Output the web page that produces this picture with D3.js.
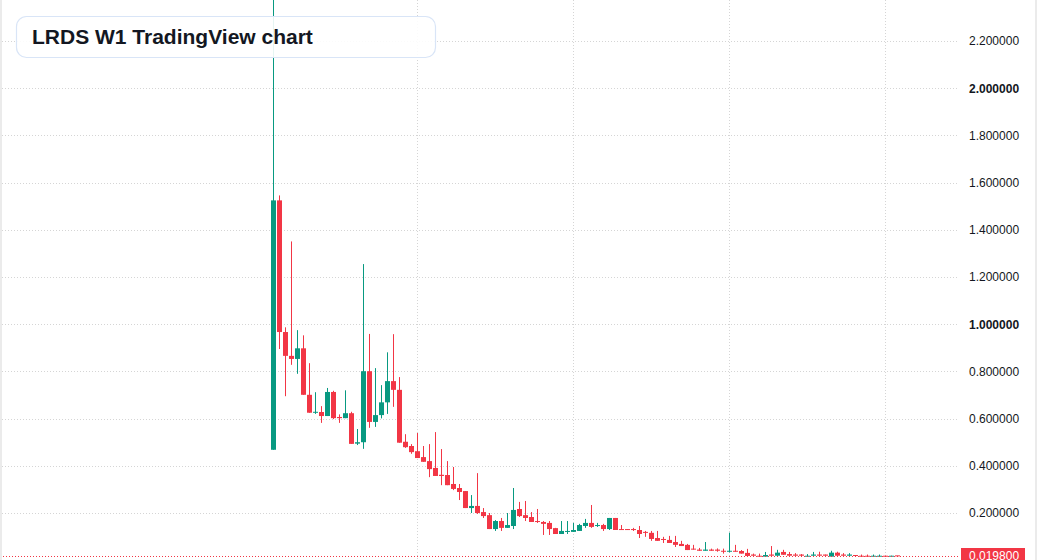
<!DOCTYPE html>
<html>
<head>
<meta charset="utf-8">
<script src="https://cdn.jsdelivr.net/npm/d3@7"></script>
<style>
  body { margin: 0; background: #fff; }
  svg { display: block; font-family: "Liberation Sans", Arial, sans-serif; }
</style>
</head>
<body>
<div id="chart-area"></div>
<script>
// weekly candles
const opens = [
  0.468, 1.525, 0.967, 0.866, 0.853, 0.898, 0.701, 0.625, 0.628, 0.611,
  0.713, 0.607, 0.602, 0.623, 0.494, 0.500, 0.801, 0.586, 0.615, 0.669,
  0.759, 0.722, 0.502, 0.484, 0.462, 0.437, 0.420, 0.391, 0.362, 0.361,
  0.323, 0.306, 0.293, 0.221, 0.230, 0.204, 0.191, 0.132, 0.166, 0.137,
  0.145, 0.217, 0.191, 0.183, 0.166, 0.162, 0.158, 0.136, 0.111, 0.120,
  0.120, 0.124, 0.145, 0.158, 0.145, 0.149, 0.132, 0.179, 0.132, 0.132,
  0.132, 0.128, 0.120, 0.116, 0.094, 0.090, 0.086, 0.077, 0.069, 0.065,
  0.049, 0.045, 0.040, 0.045, 0.045, 0.040, 0.036, 0.040, 0.039, 0.031,
  0.024, 0.019, 0.015, 0.024, 0.019, 0.035, 0.026, 0.024, 0.024, 0.015,
  0.019, 0.024, 0.024, 0.015, 0.032, 0.024, 0.019, 0.022, 0.019, 0.019,
  0.015, 0.015, 0.019, 0.015, 0.0205
];
const highs = [
  2.500, 1.546, 0.987, 1.351, 0.975, 0.953, 0.835, 0.712, 0.653, 0.730,
  0.718, 0.618, 0.720, 0.629, 0.556, 1.255, 0.959, 0.814, 0.742, 0.881,
  0.958, 0.776, 0.534, 0.492, 0.539, 0.484, 0.492, 0.543, 0.471, 0.420,
  0.395, 0.323, 0.293, 0.276, 0.369, 0.221, 0.200, 0.170, 0.179, 0.200,
  0.306, 0.247, 0.251, 0.204, 0.217, 0.166, 0.166, 0.137, 0.166, 0.166,
  0.158, 0.154, 0.175, 0.234, 0.158, 0.154, 0.179, 0.179, 0.149, 0.132,
  0.137, 0.145, 0.124, 0.124, 0.124, 0.099, 0.103, 0.103, 0.082, 0.069,
  0.065, 0.052, 0.077, 0.049, 0.050, 0.049, 0.117, 0.065, 0.043, 0.048,
  0.028, 0.028, 0.035, 0.060, 0.044, 0.044, 0.035, 0.030, 0.026, 0.026,
  0.035, 0.036, 0.024, 0.040, 0.036, 0.030, 0.030, 0.022, 0.024, 0.024,
  0.024, 0.024, 0.019, 0.019, 0.0205
];
const lows = [
  0.468, 0.895, 0.695, 0.828, 0.790, 0.701, 0.625, 0.620, 0.582, 0.611,
  0.598, 0.582, 0.602, 0.493, 0.488, 0.472, 0.561, 0.565, 0.601, 0.620,
  0.650, 0.498, 0.476, 0.451, 0.433, 0.417, 0.352, 0.357, 0.318, 0.318,
  0.297, 0.255, 0.221, 0.200, 0.196, 0.179, 0.132, 0.124, 0.124, 0.137,
  0.132, 0.183, 0.166, 0.162, 0.158, 0.107, 0.107, 0.111, 0.111, 0.111,
  0.120, 0.124, 0.137, 0.137, 0.141, 0.124, 0.128, 0.128, 0.128, 0.128,
  0.124, 0.094, 0.099, 0.082, 0.082, 0.073, 0.073, 0.056, 0.060, 0.043,
  0.045, 0.040, 0.040, 0.040, 0.036, 0.028, 0.033, 0.036, 0.028, 0.018,
  0.019, 0.015, 0.015, 0.019, 0.019, 0.023, 0.019, 0.019, 0.015, 0.015,
  0.019, 0.019, 0.019, 0.015, 0.019, 0.019, 0.019, 0.019, 0.015, 0.015,
  0.015, 0.015, 0.015, 0.015, 0.0198
];
const closes = [
  1.525, 0.967, 0.866, 0.853, 0.898, 0.701, 0.625, 0.629, 0.611, 0.713,
  0.602, 0.602, 0.623, 0.493, 0.500, 0.801, 0.586, 0.615, 0.669, 0.759,
  0.722, 0.498, 0.479, 0.458, 0.433, 0.417, 0.386, 0.357, 0.357, 0.318,
  0.302, 0.289, 0.221, 0.230, 0.200, 0.187, 0.132, 0.166, 0.137, 0.149,
  0.213, 0.187, 0.179, 0.162, 0.162, 0.154, 0.132, 0.111, 0.124, 0.124,
  0.128, 0.149, 0.158, 0.141, 0.149, 0.132, 0.179, 0.128, 0.128, 0.128,
  0.128, 0.111, 0.116, 0.090, 0.082, 0.086, 0.073, 0.065, 0.060, 0.043,
  0.045, 0.040, 0.045, 0.040, 0.040, 0.036, 0.040, 0.036, 0.028, 0.018,
  0.019, 0.015, 0.022, 0.019, 0.032, 0.023, 0.019, 0.019, 0.019, 0.019,
  0.024, 0.019, 0.019, 0.032, 0.019, 0.019, 0.024, 0.019, 0.015, 0.015,
  0.019, 0.019, 0.015, 0.019, 0.0198
];

const priceTicks = [0.2, 0.4, 0.6, 0.8, 1.0, 1.2, 1.4, 1.6, 1.8, 2.0, 2.2];
const boldTicks = [1.0, 2.0];
const timeGridIdx = [24, 50, 76, 102]; // vertical grid lines (candle index)
const lastPrice = 0.0198;
const title = 'LRDS W1 TradingView chart';

const width = 1037;
const height = 560;
const axisLeft = 960;
const up = '#089981';
const down = '#f23645';

const data = opens.map((o, i) => ({ i, o, h: highs[i], l: lows[i], c: closes[i] }));

const svg = d3.select('#chart-area')
  .append('svg')
  .attr('width', width)
  .attr('height', height);

svg.append('rect')
  .attr('width', width)
  .attr('height', height)
  .attr('fill', '#fff');

const x = d3.scaleLinear()
  .domain([0, data.length - 1])
  .range([273.5, 897.5]);

const y = d3.scaleLinear()
  .domain([0, 2])
  .range([560.2, 88.3]);

const plot = svg.append('g');

plot.append('clipPath')
  .attr('id', 'clip')
  .append('rect')
  .attr('width', axisLeft)
  .attr('height', height);

// grid
const grid = plot.append('g').attr('stroke', '#d5d5d5').attr('stroke-dasharray', '1,2');

grid.selectAll('.hgrid')
  .data(priceTicks)
  .enter().append('line')
  .attr('class', 'hgrid')
  .attr('x1', 2)
  .attr('x2', 958)
  .attr('y1', d => Math.round(y(d)) + 0.5)
  .attr('y2', d => Math.round(y(d)) + 0.5);

grid.selectAll('.vgrid')
  .data(timeGridIdx)
  .enter().append('line')
  .attr('class', 'vgrid')
  .attr('x1', d => x(d))
  .attr('x2', d => x(d))
  .attr('y1', 0)
  .attr('y2', height);

// candles
const candles = plot.append('g')
  .attr('clip-path', 'url(#clip)')
  .selectAll('g')
  .data(data)
  .enter().append('g')
  .attr('fill', d => d.c >= d.o ? up : down)
  .attr('stroke', d => d.c >= d.o ? up : down);

candles.append('line')
  .attr('x1', d => x(d.i))
  .attr('x2', d => x(d.i))
  .attr('y1', d => y(d.h))
  .attr('y2', d => y(d.l))
  .attr('stroke-width', 1);

candles.append('rect')
  .attr('stroke', 'none')
  .attr('x', d => x(d.i) - 2.5)
  .attr('width', 5)
  .attr('y', d => y(Math.max(d.o, d.c)))
  .attr('height', d => Math.max(1, y(Math.min(d.o, d.c)) - y(Math.max(d.o, d.c))));

// last price line
plot.append('line')
  .attr('x1', 0)
  .attr('x2', axisLeft)
  .attr('y1', Math.round(y(lastPrice)) + 0.5)
  .attr('y2', Math.round(y(lastPrice)) + 0.5)
  .attr('stroke', down)
  .attr('stroke-dasharray', '1,2');

// price axis
const yAxisCall = d3.axisRight(y)
  .tickValues(priceTicks)
  .tickSize(0)
  .tickPadding(9)
  .tickFormat(d3.format('.6f'));

const yAxisGroup = svg.append('g')
  .attr('transform', `translate(${axisLeft}, 0)`)
  .call(yAxisCall);

yAxisGroup.select('.domain').remove();
yAxisGroup.selectAll('text')
  .attr('font-size', '12px')
  .attr('font-family', '"Liberation Sans", Arial, sans-serif')
  .attr('fill', '#131722')
  .attr('font-weight', d => boldTicks.includes(d) ? 'bold' : 'normal');

// last price label
const labelY = y(lastPrice);
svg.append('rect')
  .attr('x', 961)
  .attr('y', Math.round(labelY) - 8)
  .attr('width', 64)
  .attr('height', 17)
  .attr('fill', down);

svg.append('text')
  .attr('x', 969)
  .attr('y', labelY)
  .attr('dy', '0.35em')
  .attr('font-size', '12px')
  .attr('fill', '#fff')
  .text(d3.format('.6f')(lastPrice));

// borders
svg.append('rect')
  .attr('x', 0).attr('y', 0)
  .attr('width', 2).attr('height', height)
  .attr('fill', '#ebebeb');

svg.append('rect')
  .attr('x', 1035).attr('y', 0)
  .attr('width', 2).attr('height', height)
  .attr('fill', '#ebebeb');

// title box
svg.append('rect')
  .attr('x', 16.5)
  .attr('y', 16.5)
  .attr('width', 419)
  .attr('height', 41)
  .attr('rx', 10)
  .attr('fill', 'rgba(255,255,255,0.9)')
  .attr('stroke', '#d9e5f7')
  .attr('stroke-width', 1.2);

svg.append('text')
  .attr('x', 32)
  .attr('y', 44)
  .attr('font-size', '21px')
  .attr('font-weight', 'bold')
  .attr('fill', '#131722')
  .text(title);
</script>
</body>
</html>
